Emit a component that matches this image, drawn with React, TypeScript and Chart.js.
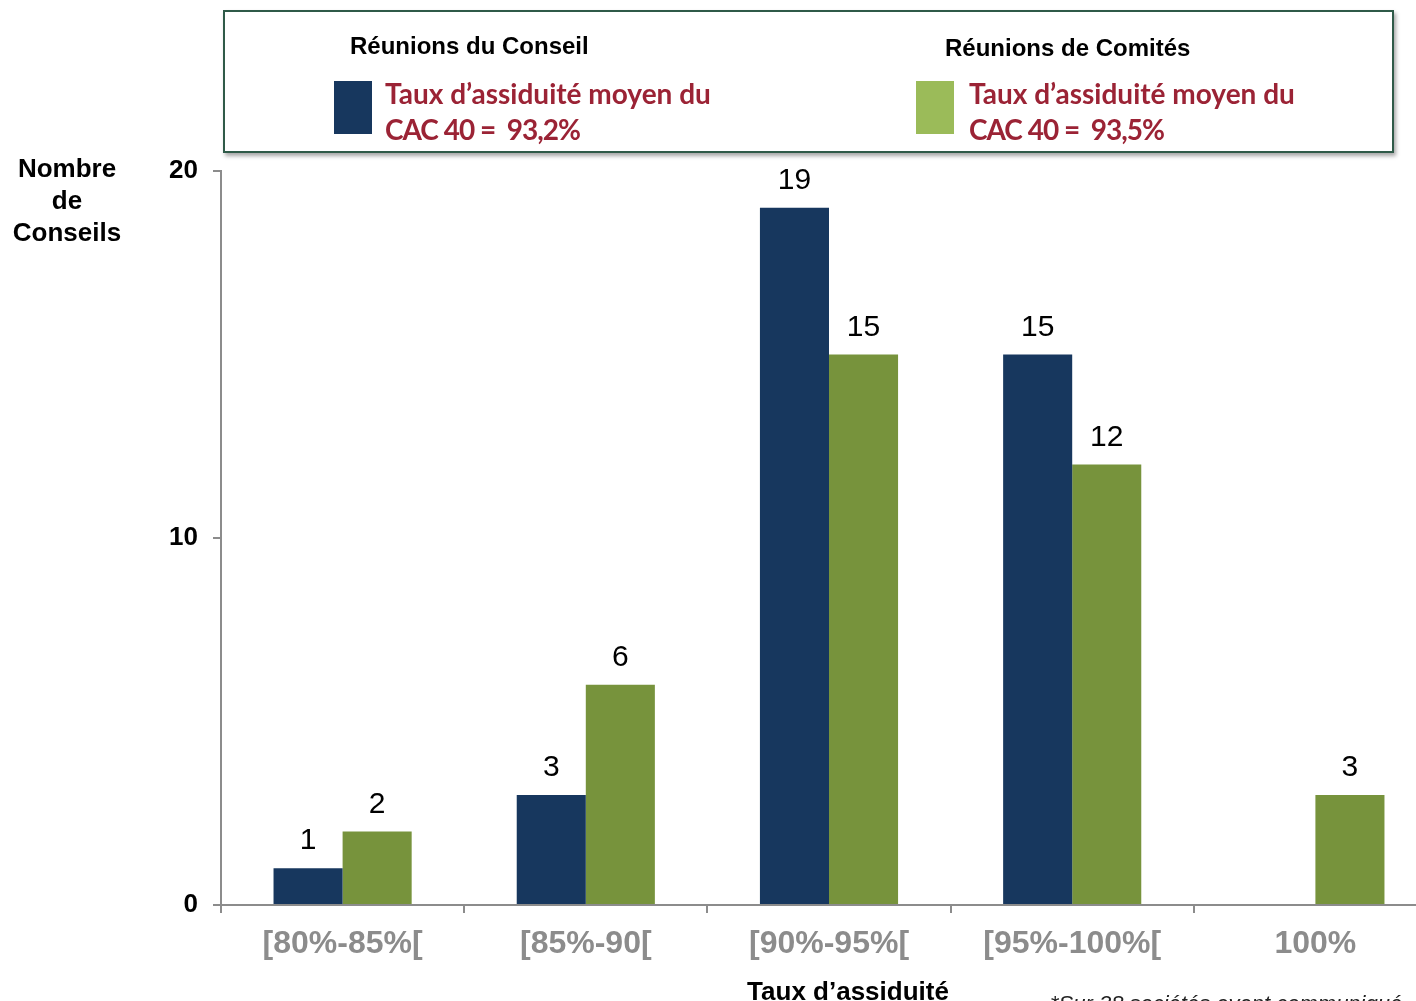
import React, { useEffect, useRef } from "react";
import { Chart, registerables } from "chart.js";

Chart.register(...registerables);

const categories = ["[80%-85%[", "[85%-90[", "[90%-95%[", "[95%-100%[", "100%"];
const conseilValues = [1, 3, 19, 15, 0];
const comitesValues = [2, 6, 15, 12, 3];
const yTicks = [0, 10, 20];

const navy = "#17375E";
const green = "#77933C";
const legendGreen = "#9BBB59";
const axisGrey = "#8c8c8c";
const red = "#9B2335";

const valueLabels = {
  id: "valueLabels",
  afterDatasetsDraw(chart: any) {
    const ctx = chart.ctx;
    ctx.save();
    ctx.font = "30px 'Liberation Sans', Arial, sans-serif";
    ctx.fillStyle = "#000";
    ctx.textAlign = "center";
    ctx.textBaseline = "alphabetic";
    chart.data.datasets.forEach((ds: any, i: number) => {
      const meta = chart.getDatasetMeta(i);
      meta.data.forEach((el: any, j: number) => {
        const v = ds.data[j];
        if (!v) return;
        ctx.fillText(String(v), el.x, el.y - 19);
      });
    });
    ctx.restore();
  },
};

export default function App() {
  const ref = useRef<HTMLCanvasElement | null>(null);
  useEffect(() => {
    if (!ref.current) return;
    const chart = new Chart(ref.current, {
      type: "bar",
      data: {
        labels: categories,
        datasets: [
          { label: "Réunions du Conseil", data: conseilValues, backgroundColor: navy, categoryPercentage: 0.568, barPercentage: 1 },
          { label: "Réunions de Comités", data: comitesValues, backgroundColor: green, categoryPercentage: 0.568, barPercentage: 1 },
        ],
      },
      options: {
        responsive: false,
        animation: false,
        layout: { padding: { top: 171, right: 5, left: 1, bottom: 0 } },
        plugins: { legend: { display: false }, tooltip: { enabled: false } },
        scales: {
          x: {
            afterFit: (s: any) => { s.height = 96; },
            border: { display: true, color: axisGrey, width: 2 },
            grid: { offset: true, drawOnChartArea: false, drawTicks: true, tickLength: 8, color: axisGrey, lineWidth: 2 },
            ticks: { color: axisGrey, padding: 12, font: { family: "'Liberation Sans', Arial, sans-serif", size: 32, weight: "bold" } },
          },
          y: {
            min: 0,
            max: 20,
            afterFit: (s: any) => { s.width = 220; },
            afterBuildTicks: (s: any) => { s.ticks = yTicks.map((v) => ({ value: v })); },
            border: { display: true, color: axisGrey, width: 2 },
            grid: { drawOnChartArea: false, drawTicks: true, tickLength: 8, color: axisGrey, lineWidth: 2 },
            ticks: { color: "#000", padding: 15, font: { family: "'Liberation Sans', Arial, sans-serif", size: 26, weight: "bold" } },
          },
        },
      },
      plugins: [valueLabels],
    });
    return () => chart.destroy();
  }, []);

  const arial = "'Liberation Sans', Arial, sans-serif";
  const lato = "Lato, 'Open Sans', sans-serif";
  const header: React.CSSProperties = { position: "absolute", fontFamily: arial, fontWeight: "bold", fontSize: 24, lineHeight: "26px", color: "#000", whiteSpace: "nowrap" };
  const redText: React.CSSProperties = { position: "absolute", fontFamily: lato, fontWeight: "bold", fontSize: 28, lineHeight: "36px", color: red, whiteSpace: "nowrap" };

  return (
    <div style={{ position: "absolute", left: 0, top: 0, width: 1416, height: 1001, overflow: "hidden", background: "#fff" }}>
      <canvas ref={ref} width={1442} height={1001} style={{ position: "absolute", left: 0, top: 0, width: 1442, height: 1001 }} />
      <div style={{ position: "absolute", left: 223, top: 10, width: 1171, height: 143, boxSizing: "border-box", border: "2px solid #2F5A48", boxShadow: "2px 3px 4px rgba(0,0,0,0.35)", background: "#fff" }} />
      <div style={{ ...header, left: 350, top: 33 }}>Réunions du Conseil</div>
      <div style={{ ...header, left: 945, top: 35 }}>Réunions de Comités</div>
      <div style={{ position: "absolute", left: 334, top: 81, width: 38, height: 53, background: navy }} />
      <div style={{ position: "absolute", left: 916, top: 81, width: 38, height: 53, background: legendGreen }} />
      <div style={{ ...redText, left: 385, top: 75 }}>Taux d’assiduité moyen du<br /><span style={{ letterSpacing: "-1px" }}>CAC 40 =&nbsp; 93,2%</span></div>
      <div style={{ ...redText, left: 969, top: 75 }}>Taux d’assiduité moyen du<br /><span style={{ letterSpacing: "-1px" }}>CAC 40 =&nbsp; 93,5%</span></div>
      <div style={{ position: "absolute", left: 0, width: 134, top: 152, textAlign: "center", fontFamily: arial, fontWeight: "bold", fontSize: 26, lineHeight: "32px", color: "#000" }}>Nombre<br />de<br />Conseils</div>
      <div style={{ position: "absolute", left: 648, width: 400, top: 978, textAlign: "center", fontFamily: arial, fontWeight: "bold", fontSize: 26, lineHeight: "26px", color: "#000" }}>Taux d’assiduité</div>
      <div style={{ position: "absolute", left: 1050, top: 993, fontFamily: arial, fontStyle: "italic", fontSize: 22, lineHeight: "22px", color: "#222", whiteSpace: "nowrap" }}>*Sur 38 sociétés ayant communiqué</div>
    </div>
  );
}
